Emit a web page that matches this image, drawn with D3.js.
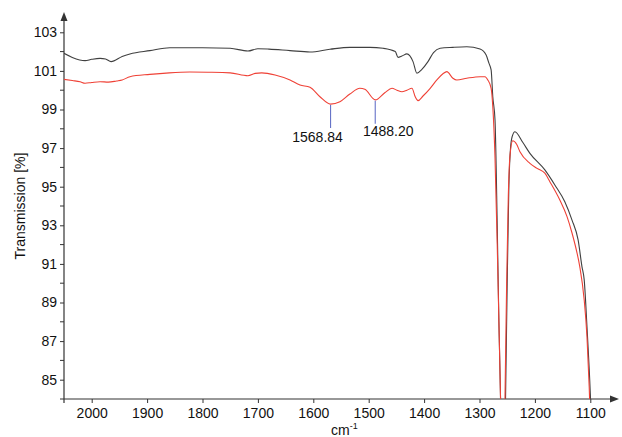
<!DOCTYPE html>
<html>
<head>
<meta charset="utf-8">
<script src="https://cdn.jsdelivr.net/npm/d3@7"></script>
<style>
  body { margin: 0; background: #fff; }
  text { font-family: 'Liberation Sans', Arial, sans-serif; fill: #111; }
</style>
</head>
<body>
<script>
// [wavenumber cm-1, transmission %]
const blackSpectrum = [
  [2050, 101.91], [2035, 101.7], [2012, 101.53], [2000, 101.6], [1985, 101.65],
  [1975, 101.62], [1965, 101.48], [1945, 101.75], [1931, 101.88], [1895, 102.05],
  [1859, 102.2], [1800, 102.2], [1750, 102.17], [1718, 102.03], [1700, 102.15],
  [1680, 102.13], [1642, 102.05], [1606, 101.98], [1570, 102.12], [1534, 102.22],
  [1498, 102.22], [1474, 102.17], [1452, 102.0], [1447, 101.7], [1440, 101.77],
  [1431, 101.88], [1420, 101.48], [1413, 100.88], [1404, 101.08], [1393, 101.48],
  [1383, 101.95], [1371, 102.17], [1348, 102.22], [1323, 102.25], [1299, 102.13],
  [1288, 101.82], [1283, 101.4], [1279, 101.05], [1276, 99.66], [1272, 98.46],
  [1268, 93], [1265, 88], [1262, 84], [1259, 78], [1256, 80], [1253, 84],
  [1250, 90], [1247, 95], [1244, 97.0], [1241, 97.6], [1236, 97.85], [1222, 97.3],
  [1209, 96.73], [1182, 95.87], [1164, 95.09], [1146, 94.22], [1133, 93.27],
  [1122, 92.24], [1115, 90.85], [1111, 90.17], [1106, 87.75], [1100, 84.3], [1097, 82]
];

const redSpectrum = [
  [2050, 100.56], [2035, 100.5], [2021, 100.44], [2012, 100.36], [2000, 100.4],
  [1985, 100.44], [1970, 100.42], [1955, 100.48], [1945, 100.53], [1931, 100.7],
  [1895, 100.82], [1860, 100.9], [1823, 100.94], [1790, 100.93], [1750, 100.9],
  [1718, 100.75], [1705, 100.87], [1693, 100.9], [1669, 100.79], [1642, 100.53],
  [1624, 100.27], [1606, 100.15], [1588, 99.66], [1569, 99.28], [1552, 99.4],
  [1534, 99.8], [1516, 100.1], [1507, 100.05], [1488, 99.5], [1471, 99.87],
  [1458, 100.1], [1449, 100.0], [1440, 99.92], [1431, 100.0], [1422, 100.1],
  [1416, 99.66], [1411, 99.46], [1402, 99.7], [1389, 100.1], [1377, 100.53],
  [1366, 100.85], [1359, 100.96], [1348, 100.62], [1341, 100.53], [1323, 100.62],
  [1299, 100.7], [1290, 100.7], [1285, 100.53], [1279, 100.1], [1276, 99.15],
  [1272, 96.5], [1268, 92], [1265, 88], [1262, 84], [1259, 78], [1256, 80],
  [1254, 84], [1251, 90], [1248, 94.5], [1245, 96.6], [1240, 97.38], [1233, 97.2],
  [1227, 96.81], [1209, 96.21], [1196, 95.95], [1182, 95.7], [1173, 95.26],
  [1155, 94.31], [1142, 93.45], [1133, 92.6], [1124, 91.57], [1119, 90.86],
  [1111, 89.13], [1106, 87.23], [1102, 84.64], [1099, 82]
];

const peaks = [
  {wn: 1568.84, t: 99.28, label: '1568.84'},
  {wn: 1488.20, t: 99.5, label: '1488.20'}
];

const xTicks = [2000, 1900, 1800, 1700, 1600, 1500, 1400, 1300, 1200, 1100];
const yTicks = [85, 87, 89, 91, 93, 95, 97, 99, 101, 103];
const yMinorTicks = [84, 86, 88, 90, 92, 94, 96, 98, 100, 102];

const width = 622, height = 437;
const margins = {top: 13, right: 4, bottom: 38, left: 64};

const svg = d3.select('body').append('svg')
  .attr('width', width)
  .attr('height', height);

const x = d3.scaleLinear().domain([2050, 1050]).range([margins.left, width - margins.right]);
const y = d3.scaleLinear().domain([84, 104]).range([height - margins.bottom, margins.top]);

svg.append('clipPath').attr('id', 'plot')
  .append('rect')
  .attr('x', margins.left).attr('y', margins.top)
  .attr('width', width - margins.left - margins.right)
  .attr('height', height - margins.top - margins.bottom);

const axisColor = '#333';

// x axis
const xAxis = svg.append('g')
  .attr('transform', `translate(0,${y(84)})`)
  .call(d3.axisBottom(x).tickValues(xTicks).tickSize(4).tickPadding(5).tickFormat(d3.format('d')));
xAxis.select('.domain').remove();
xAxis.selectAll('line').attr('stroke', axisColor);
xAxis.selectAll('text').style('font-size', '14px').style('font-family', "'Liberation Sans', Arial, sans-serif");

// y axis
const yAxis = svg.append('g')
  .attr('transform', `translate(${x(2050)},0)`)
  .call(d3.axisLeft(y).tickValues(yTicks).tickSize(4).tickPadding(3).tickFormat(d3.format('d')));
yAxis.select('.domain').remove();
yAxis.selectAll('line').attr('stroke', axisColor);
yAxis.selectAll('text').style('font-size', '14px').style('font-family', "'Liberation Sans', Arial, sans-serif");

svg.append('g').selectAll('line').data(yMinorTicks).join('line')
  .attr('x1', x(2050) - 4).attr('x2', x(2050))
  .attr('y1', (d) => y(d)).attr('y2', (d) => y(d))
  .attr('stroke', axisColor);

// axis lines with arrows
svg.append('line')
  .attr('x1', x(2050)).attr('x2', x(2050))
  .attr('y1', y(84) + 4).attr('y2', y(104) + 6)
  .attr('stroke', axisColor).attr('stroke-width', 1.2);
svg.append('path')
  .attr('d', `M${x(2050)},${y(104) - 1}l-3.5,9h7z`)
  .attr('fill', axisColor);

svg.append('line')
  .attr('x1', x(2050)).attr('x2', x(1050) - 4)
  .attr('y1', y(84)).attr('y2', y(84))
  .attr('stroke', axisColor).attr('stroke-width', 1.2);
svg.append('path')
  .attr('d', `M${x(1050) + 1},${y(84)}l-9,-3.5v7z`)
  .attr('fill', axisColor);

// spectra
const line = d3.line()
  .x((d) => x(d[0]))
  .y((d) => y(d[1]))
  .curve(d3.curveMonotoneX);

const plot = svg.append('g').attr('clip-path', 'url(#plot)');

plot.append('path')
  .datum(blackSpectrum)
  .attr('d', line)
  .attr('fill', 'none')
  .attr('stroke', '#404040')
  .attr('stroke-width', 1.1);

plot.append('path')
  .datum(redSpectrum)
  .attr('d', line)
  .attr('fill', 'none')
  .attr('stroke', '#ef4136')
  .attr('stroke-width', 1.1);

// peak markers
const peakG = svg.append('g');
peaks.forEach((p, i) => {
  const px = x(p.wn);
  const top = y(p.t) + 1;
  const bottom = top + 23;
  peakG.append('line')
    .attr('x1', px).attr('x2', px)
    .attr('y1', top).attr('y2', bottom)
    .attr('stroke', '#6673c8').attr('stroke-width', 1.1);
  peakG.append('text')
    .attr('x', px + (i === 0 ? -13 : 13))
    .attr('y', bottom + (i === 0 ? 14 : 12))
    .attr('text-anchor', 'middle')
    .style('font-size', '14px')
    .text(p.label);
});

// axis titles
svg.append('text')
  .attr('transform', `translate(25,${(y(84) + y(104)) / 2}) rotate(-90)`)
  .attr('text-anchor', 'middle')
  .style('font-size', '14px')
  .text('Transmission [%]');

const xTitle = svg.append('text')
  .attr('x', 331)
  .attr('y', 435)
  .style('font-size', '14px')
  .text('cm');
xTitle.append('tspan')
  .attr('dy', -6)
  .style('font-size', '9px')
  .text('-1');
</script>
</body>
</html>
